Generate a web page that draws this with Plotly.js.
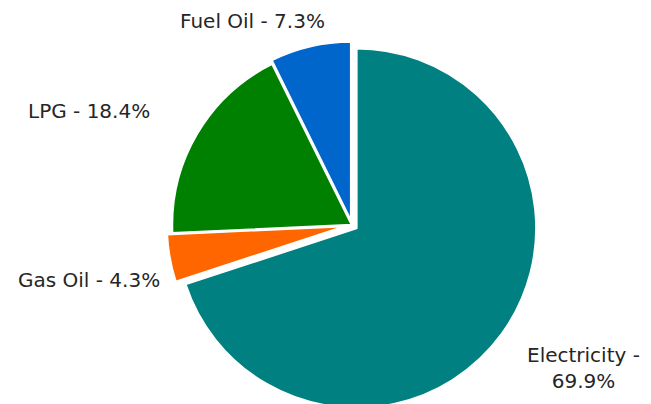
<!DOCTYPE html>
<html>
<head>
<meta charset="utf-8">
<script src="https://cdn.plot.ly/plotly-3.0.1.min.js"></script>
<style>
html,body{margin:0;padding:0;overflow:hidden;background:#fff;width:651px;height:404px;}
#chart{width:651px;height:420px;}
</style>
</head>
<body>
<div id="chart"></div>
<script>
const labels = ["Electricity", "Gas Oil", "LPG", "Fuel Oil"];
const values = [69.9, 4.3, 18.4, 7.3];
const colors = ["#008080", "#FF6600", "#008000", "#0066CC"];
const pulls = [0.03, 0.03, 0, 0.02];
const labelBreak = [true, false, false, false];
const labelPos = [[583, 368], [89, 280], [89, 111], [252, 21]];

const W = 651, H = 420;
const annotations = labels.map((l, i) => ({
  text: l + " -" + (labelBreak[i] ? "<br>" : " ") + values[i].toFixed(1) + "%",
  x: labelPos[i][0] / W, y: 1 - labelPos[i][1] / H,
  xref: "paper", yref: "paper", showarrow: false,
  xanchor: "center", yanchor: "middle", align: "center",
  font: {family: "DejaVu Sans", size: 20, color: "#262626"}
}));

const trace = {
  type: "pie",
  labels: labels,
  values: values,
  sort: false,
  direction: "clockwise",
  rotation: 0,
  pull: pulls,
  textinfo: "none",
  hoverinfo: "label+percent",
  marker: {colors: colors, line: {color: "#ffffff", width: 2.5}},
  domain: {x: [166.6 / W, 537.4 / W], y: [1 - 410.4 / H, 1 - 39.6 / H]},
  showlegend: false
};

Plotly.newPlot("chart", [trace], {
  width: W, height: H,
  margin: {l: 0, r: 0, t: 0, b: 0},
  paper_bgcolor: "#ffffff",
  showlegend: false,
  annotations: annotations
}, {displayModeBar: false, staticPlot: true});
</script>
</body>
</html>
